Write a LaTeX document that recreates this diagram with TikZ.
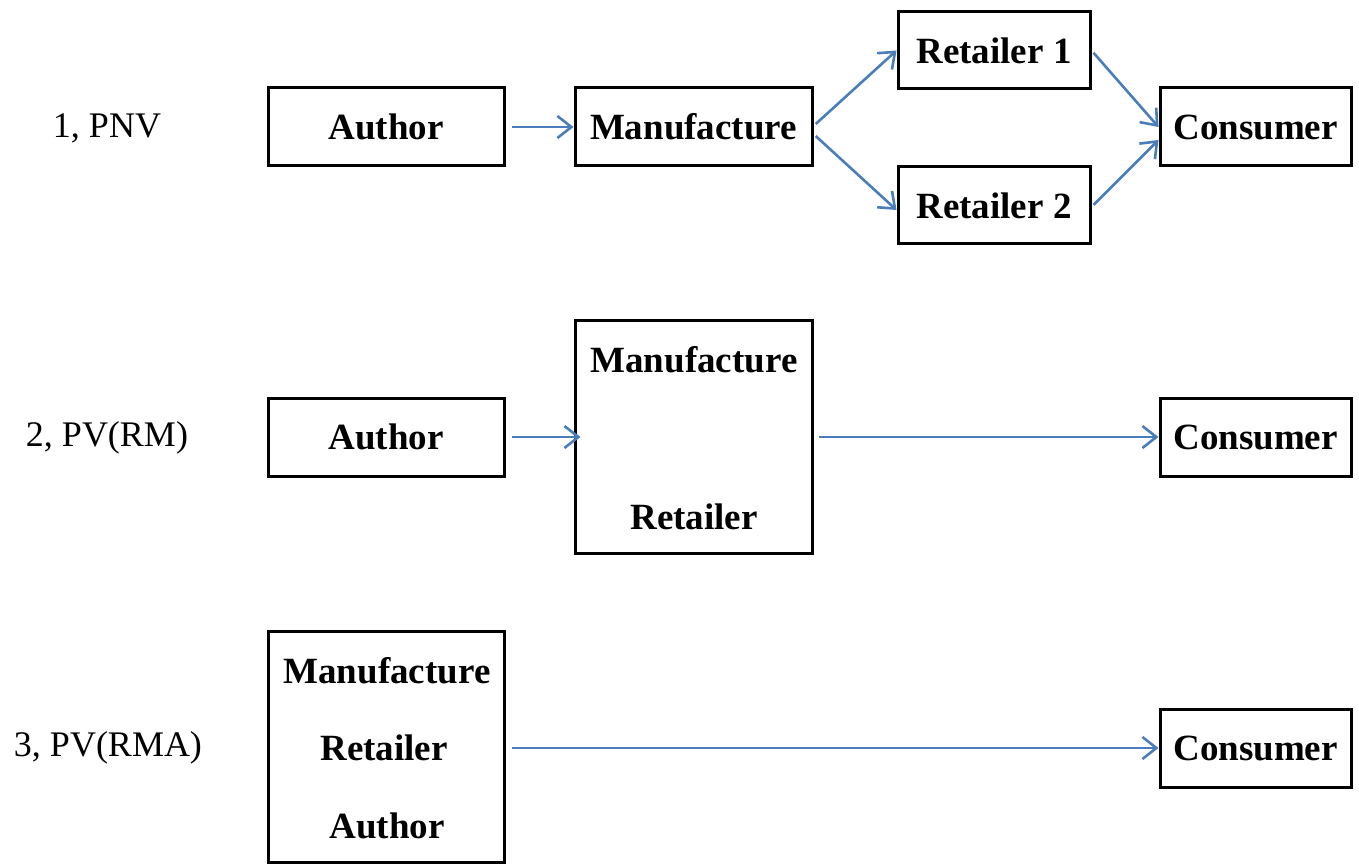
\documentclass[tikz,border=0pt]{standalone}
\usepackage{fontspec}
\setmainfont{Liberation Serif}
\usetikzlibrary{arrows.meta}
\definecolor{arrblue}{RGB}{74,126,187}
\begin{document}
\begin{tikzpicture}[x=1pt,y=-1pt,
  box/.style={draw=black,line width=3pt,inner sep=0pt,font=\fontsize{37}{40}\selectfont\bfseries},
  lbl/.style={inner sep=0pt,font=\fontsize{36}{40}\selectfont},
  txt/.style={inner sep=0pt,font=\fontsize{37}{40}\selectfont\bfseries},
  conn/.style={draw=arrblue,line width=2.6pt,-{Straight Barb[length=14pt,width=22pt,line width=2.6pt]}}]
\useasboundingbox (0,0) rectangle (1359,866);
% row 1
\node[lbl] (l1) at (107,128) {1, PNV};
\node[box,minimum width=236pt,minimum height=78pt] (a1) at (386,127) {Author};
\node[box,minimum width=237pt,minimum height=78pt] (m1) at (693.5,127) {Manufacture};
\node[box,minimum width=192pt,minimum height=77pt] (r1) at (994,50.5) {Retailer 1};
\node[box,minimum width=192pt,minimum height=77pt] (r2) at (994,205.5) {Retailer 2};
\node[box,minimum width=191pt,minimum height=78pt] (c1) at (1255.5,127) {Consumer};
\draw[conn,shorten <=6pt] (a1.east) -- (m1.west);
\draw[conn,shorten <=3pt] ([yshift=1pt]m1.east) -- (r1.west);
\draw[conn,shorten <=3pt] ([yshift=-7pt]m1.east) -- ([yshift=-4.5pt]r2.west);
\draw[conn,shorten <=3pt] (r1.east) -- (c1.west);
\draw[conn,shorten <=3pt] ([yshift=-1.5pt]r2.east) -- ([yshift=-13pt]c1.west);
% row 2
\node[lbl] (l2) at (107,438) {2, PV(RM)};
\node[box,minimum width=236pt,minimum height=78pt] (a2) at (386,437) {Author};
\node[box,minimum width=237pt,minimum height=232pt] (m2) at (693.5,437) {};
\node[txt] (m2a) at (694,360) {Manufacture};
\node[txt] (m2b) at (694,517) {Retailer};
\node[box,minimum width=191pt,minimum height=78pt] (c2) at (1255.5,437) {Consumer};
\draw[conn,shorten <=6pt,shorten >=-7pt] (a2.east) -- (m2.west);
\draw[conn,shorten <=5pt] (m2.east) -- (c2.west);
% row 3
\node[lbl] (l3) at (108,748) {3, PV(RMA)};
\node[box,minimum width=236pt,minimum height=231pt] (m3) at (386,746.5) {};
\node[txt] (m3a) at (387,671) {Manufacture};
\node[txt] (m3b) at (384,748) {Retailer};
\node[txt] (m3c) at (387,826) {Author};
\node[box,minimum width=191pt,minimum height=78pt] (c3) at (1255.5,748) {Consumer};
\draw[conn,shorten <=6pt] ([yshift=-1.5pt]m3.east) -- (c3.west);
\end{tikzpicture}
\end{document}
